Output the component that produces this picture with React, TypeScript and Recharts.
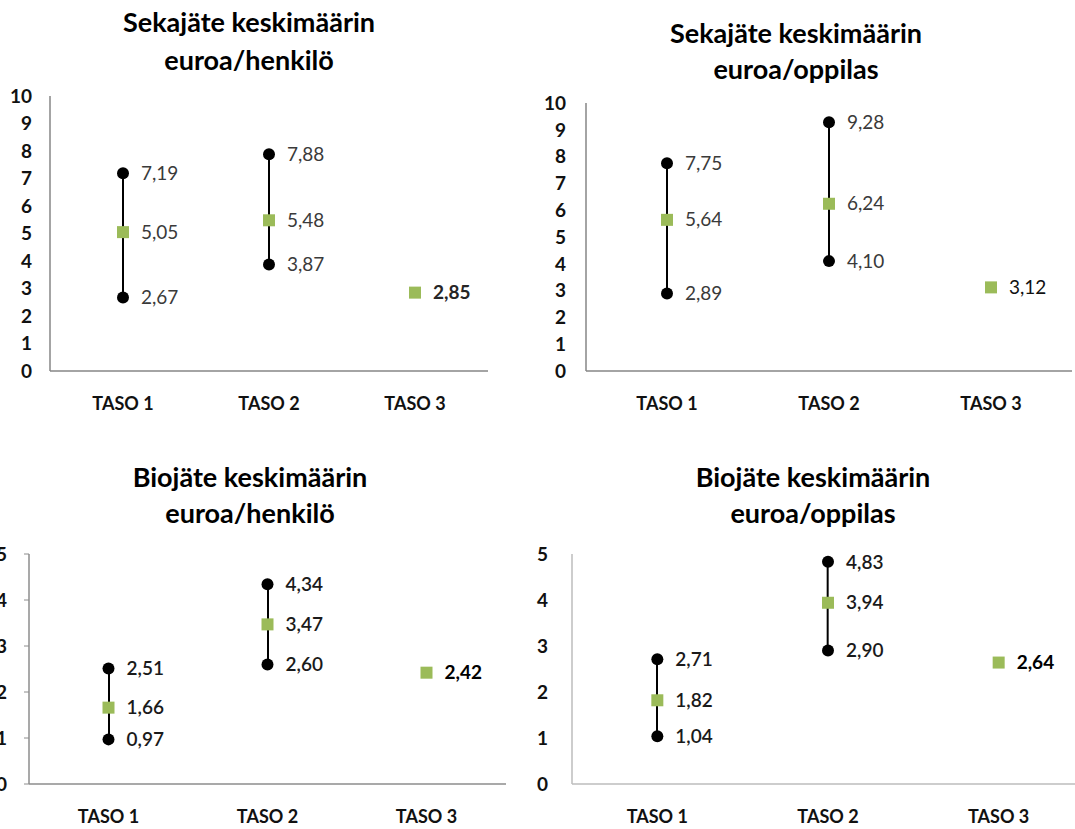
import React from "react";
import {
  ComposedChart,
  Bar,
  Line,
  XAxis,
  YAxis,
  LabelList,
} from "recharts";

const categories = ["TASO 1", "TASO 2", "TASO 3"];

// Sekajäte, euroa/henkilö
const sekaHenkiloHigh = [7.19, 7.88, null];
const sekaHenkiloLow = [2.67, 3.87, null];
const sekaHenkiloAvg = [5.05, 5.48, 2.85];

// Sekajäte, euroa/oppilas
const sekaOppilasHigh = [7.75, 9.28, null];
const sekaOppilasLow = [2.89, 4.1, null];
const sekaOppilasAvg = [5.64, 6.24, 3.12];

// Biojäte, euroa/henkilö
const bioHenkiloHigh = [2.51, 4.34, null];
const bioHenkiloLow = [0.97, 2.6, null];
const bioHenkiloAvg = [1.66, 3.47, 2.42];

// Biojäte, euroa/oppilas
const bioOppilasHigh = [2.71, 4.83, null];
const bioOppilasLow = [1.04, 2.9, null];
const bioOppilasAvg = [1.82, 3.94, 2.64];

const ticksTen = [0, 1, 2, 3, 4, 5, 6, 7, 8, 9, 10];
const ticksFive = [0, 1, 2, 3, 4, 5];

const FONT = "Lato, 'Open Sans', sans-serif";
const GREEN = "#9bbb59";
const LABEL_SIZE = 19;

type Row = {
  name: string;
  high: number | null;
  low: number | null;
  avg: number;
  range: [number, number] | null;
};

function buildRows(high: (number | null)[], low: (number | null)[], avg: number[]): Row[] {
  return categories.map((name, i) => ({
    name,
    high: high[i],
    low: low[i],
    avg: avg[i],
    range: high[i] != null && low[i] != null ? [low[i] as number, high[i] as number] : null,
  }));
}

const fmt = (v: any) => (v == null ? "" : Number(v).toFixed(2).replace(".", ","));

function CircleDot(props: any) {
  const { cx, cy, value, index } = props;
  if (value == null || cx == null || cy == null) return <g key={`c${index}`} />;
  return <circle key={`c${index}`} cx={cx} cy={cy} r={6} fill="#000" />;
}

function SquareDot(props: any) {
  const { cx, cy, value, index } = props;
  if (value == null || cx == null || cy == null) return <g key={`s${index}`} />;
  return <rect key={`s${index}`} x={cx - 6} y={cy - 6} width={12} height={12} fill={GREEN} />;
}

type PanelProps = {
  rows: Row[];
  left: number;
  top: number;
  width: number;
  height: number;
  margin: { top: number; right: number; left: number; bottom: number };
  yWidth: number;
  xHeight: number;
  ticks: number[];
  yTickLine: boolean;
  yTickMargin: number;
  axisColor: string;
  labelWeight: number;
  labelColor: string;
  lastLabelWeight: number;
  lastLabelColor: string;
};

function AvgLabel(props: any) {
  const { x, y, value, index, weight, color, lastWeight, lastColor } = props;
  if (value == null) return null;
  const last = index === categories.length - 1;
  return (
    <text
      x={x + 18}
      y={y}
      dy="0.35em"
      fontFamily={FONT}
      fontSize={LABEL_SIZE}
      fontWeight={last ? lastWeight : weight}
      fill={last ? lastColor : color}
    >
      {fmt(value)}
    </text>
  );
}

function Panel(p: PanelProps) {
  const labelStyle = {
    fontFamily: FONT,
    fontSize: LABEL_SIZE,
    fontWeight: p.labelWeight,
    fill: p.labelColor,
  };
  return (
    <div style={{ position: "absolute", left: p.left, top: p.top }}>
      <ComposedChart width={p.width} height={p.height} data={p.rows} margin={p.margin}>
        <XAxis
          dataKey="name"
          height={p.xHeight}
          axisLine={{ stroke: p.axisColor, strokeWidth: 1.5 }}
          tickLine={false}
          tickMargin={20}
          tick={{ fontFamily: FONT, fontSize: 18, fontWeight: 700, fill: "#111" }}
        />
        <YAxis
          type="number"
          domain={[0, p.ticks[p.ticks.length - 1]]}
          ticks={p.ticks}
          interval={0}
          width={p.yWidth}
          axisLine={{ stroke: p.axisColor, strokeWidth: 1.5 }}
          tickLine={p.yTickLine ? { stroke: p.axisColor } : false}
          tickSize={p.yTickLine ? 5 : 6}
          tickMargin={p.yTickMargin}
          tick={{ fontFamily: FONT, fontSize: 19, fontWeight: 700, fill: "#111" }}
        />
        <Bar dataKey="range" barSize={2} fill="#000" isAnimationActive={false} />
        <Line
          dataKey="high"
          stroke="none"
          dot={CircleDot}
          activeDot={false}
          isAnimationActive={false}
        >
          <LabelList dataKey="high" position="right" offset={18} formatter={fmt} style={labelStyle} />
        </Line>
        <Line
          dataKey="low"
          stroke="none"
          dot={CircleDot}
          activeDot={false}
          isAnimationActive={false}
        >
          <LabelList dataKey="low" position="right" offset={18} formatter={fmt} style={labelStyle} />
        </Line>
        <Line
          dataKey="avg"
          stroke="none"
          dot={SquareDot}
          activeDot={false}
          isAnimationActive={false}
        >
          <LabelList
            dataKey="avg"
            content={(lp: any) => (
              <AvgLabel
                {...lp}
                weight={p.labelWeight}
                color={p.labelColor}
                lastWeight={p.lastLabelWeight}
                lastColor={p.lastLabelColor}
              />
            )}
          />
        </Line>
      </ComposedChart>
    </div>
  );
}

function Title({ lines, cx, top, lineHeight }: { lines: string[]; cx: number; top: number; lineHeight: number }) {
  return (
    <div
      style={{
        position: "absolute",
        left: cx - 200,
        top,
        width: 400,
        textAlign: "center",
        fontFamily: FONT,
        fontWeight: 700,
        fontSize: 27,
        lineHeight: `${lineHeight}px`,
        color: "#000",
      }}
    >
      {lines.map((l) => (
        <div key={l}>{l}</div>
      ))}
    </div>
  );
}

export default function App() {
  return (
    <div
      style={{
        position: "absolute",
        left: 0,
        top: 0,
        width: 1075,
        height: 829,
        overflow: "hidden",
        background: "#fff",
      }}
    >
      <Title lines={["Sekajäte keskimäärin", "euroa/henkilö"]} cx={249} top={3} lineHeight={38} />
      <Title lines={["Sekajäte keskimäärin", "euroa/oppilas"]} cx={796} top={15} lineHeight={36} />
      <Title lines={["Biojäte keskimäärin", "euroa/henkilö"]} cx={250} top={459} lineHeight={36} />
      <Title lines={["Biojäte keskimäärin", "euroa/oppilas"]} cx={813} top={459} lineHeight={36} />

      <Panel
        rows={buildRows(sekaHenkiloHigh, sekaHenkiloLow, sekaHenkiloAvg)}
        left={0}
        top={0}
        width={520}
        height={420}
        margin={{ top: 96, right: 32, left: 0, bottom: 0 }}
        yWidth={50}
        xHeight={49}
        ticks={ticksTen}
        yTickLine={false}
        yTickMargin={12}
        axisColor="#868686"
        labelWeight={400}
        labelColor="#3a3a3a"
        lastLabelWeight={700}
        lastLabelColor="#262626"
      />
      <Panel
        rows={buildRows(sekaOppilasHigh, sekaOppilasLow, sekaOppilasAvg)}
        left={530}
        top={0}
        width={545}
        height={420}
        margin={{ top: 103, right: 3, left: 0, bottom: 0 }}
        yWidth={56}
        xHeight={49}
        ticks={ticksTen}
        yTickLine={false}
        yTickMargin={14}
        axisColor="#868686"
        labelWeight={400}
        labelColor="#3a3a3a"
        lastLabelWeight={400}
        lastLabelColor="#111"
      />
      <Panel
        rows={buildRows(bioHenkiloHigh, bioHenkiloLow, bioHenkiloAvg)}
        left={0}
        top={420}
        width={530}
        height={409}
        margin={{ top: 134, right: 24, left: 0, bottom: 0 }}
        yWidth={29}
        xHeight={45}
        ticks={ticksFive}
        yTickLine={true}
        yTickMargin={17}
        axisColor="#8c8c8c"
        labelWeight={600}
        labelColor="#1a1a1a"
        lastLabelWeight={700}
        lastLabelColor="#000"
      />
      <Panel
        rows={buildRows(bioOppilasHigh, bioOppilasLow, bioOppilasAvg)}
        left={530}
        top={420}
        width={560}
        height={409}
        margin={{ top: 134, right: 6, left: 0, bottom: 0 }}
        yWidth={42}
        xHeight={45}
        ticks={ticksFive}
        yTickLine={false}
        yTickMargin={18}
        axisColor="#bdbdbd"
        labelWeight={600}
        labelColor="#1a1a1a"
        lastLabelWeight={700}
        lastLabelColor="#000"
      />
    </div>
  );
}
